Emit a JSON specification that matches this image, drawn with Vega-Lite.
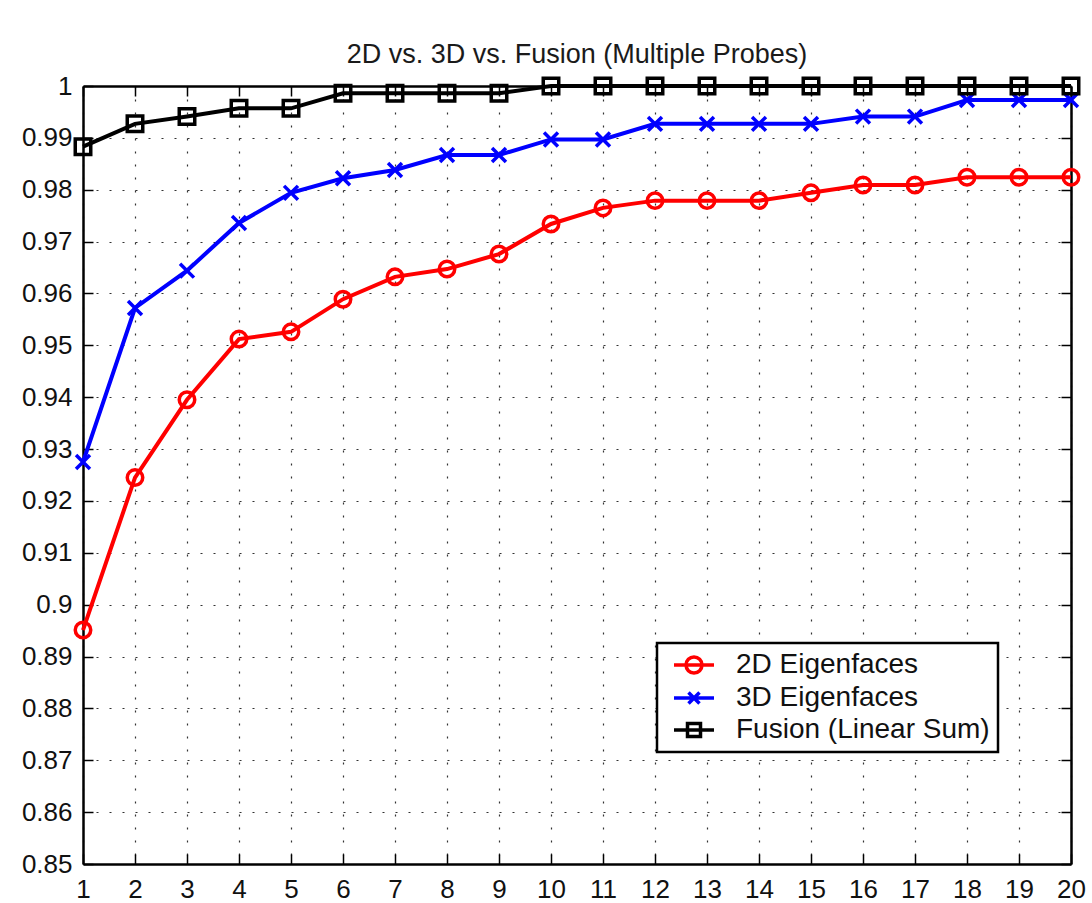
{
  "$schema": "https://vega.github.io/schema/vega-lite/v6.json",
  "width": 988,
  "height": 778,
  "autosize": {"type": "none"},
  "padding": {"left": 83, "top": 86, "right": 21, "bottom": 39},
  "background": "white",
  "title": {"text": "2D vs. 3D vs. Fusion (Multiple Probes)", "font": "Liberation Sans", "fontSize": 27, "fontWeight": "normal", "color": "#1a1a1a", "anchor": "middle", "frame": "group", "baseline": "alphabetic", "offset": -19},
  "data": {"values": [
    {"series": "2D Eigenfaces", "rank": 1, "rate": 0.8951},
    {"series": "2D Eigenfaces", "rank": 2, "rate": 0.9245},
    {"series": "2D Eigenfaces", "rank": 3, "rate": 0.9395},
    {"series": "2D Eigenfaces", "rank": 4, "rate": 0.9512},
    {"series": "2D Eigenfaces", "rank": 5, "rate": 0.9526},
    {"series": "2D Eigenfaces", "rank": 6, "rate": 0.9589},
    {"series": "2D Eigenfaces", "rank": 7, "rate": 0.9632},
    {"series": "2D Eigenfaces", "rank": 8, "rate": 0.9647},
    {"series": "2D Eigenfaces", "rank": 9, "rate": 0.9676},
    {"series": "2D Eigenfaces", "rank": 10, "rate": 0.9734},
    {"series": "2D Eigenfaces", "rank": 11, "rate": 0.9765},
    {"series": "2D Eigenfaces", "rank": 12, "rate": 0.9779},
    {"series": "2D Eigenfaces", "rank": 13, "rate": 0.9779},
    {"series": "2D Eigenfaces", "rank": 14, "rate": 0.9779},
    {"series": "2D Eigenfaces", "rank": 15, "rate": 0.9794},
    {"series": "2D Eigenfaces", "rank": 16, "rate": 0.9809},
    {"series": "2D Eigenfaces", "rank": 17, "rate": 0.9809},
    {"series": "2D Eigenfaces", "rank": 18, "rate": 0.9824},
    {"series": "2D Eigenfaces", "rank": 19, "rate": 0.9824},
    {"series": "2D Eigenfaces", "rank": 20, "rate": 0.9824},
    {"series": "3D Eigenfaces", "rank": 1, "rate": 0.9275},
    {"series": "3D Eigenfaces", "rank": 2, "rate": 0.9572},
    {"series": "3D Eigenfaces", "rank": 3, "rate": 0.9644},
    {"series": "3D Eigenfaces", "rank": 4, "rate": 0.9736},
    {"series": "3D Eigenfaces", "rank": 5, "rate": 0.9794},
    {"series": "3D Eigenfaces", "rank": 6, "rate": 0.9822},
    {"series": "3D Eigenfaces", "rank": 7, "rate": 0.9838},
    {"series": "3D Eigenfaces", "rank": 8, "rate": 0.9867},
    {"series": "3D Eigenfaces", "rank": 9, "rate": 0.9867},
    {"series": "3D Eigenfaces", "rank": 10, "rate": 0.9897},
    {"series": "3D Eigenfaces", "rank": 11, "rate": 0.9897},
    {"series": "3D Eigenfaces", "rank": 12, "rate": 0.9927},
    {"series": "3D Eigenfaces", "rank": 13, "rate": 0.9927},
    {"series": "3D Eigenfaces", "rank": 14, "rate": 0.9927},
    {"series": "3D Eigenfaces", "rank": 15, "rate": 0.9927},
    {"series": "3D Eigenfaces", "rank": 16, "rate": 0.9941},
    {"series": "3D Eigenfaces", "rank": 17, "rate": 0.9941},
    {"series": "3D Eigenfaces", "rank": 18, "rate": 0.9973},
    {"series": "3D Eigenfaces", "rank": 19, "rate": 0.9973},
    {"series": "3D Eigenfaces", "rank": 20, "rate": 0.9973},
    {"series": "Fusion (Linear Sum)", "rank": 1, "rate": 0.9883},
    {"series": "Fusion (Linear Sum)", "rank": 2, "rate": 0.9927},
    {"series": "Fusion (Linear Sum)", "rank": 3, "rate": 0.9941},
    {"series": "Fusion (Linear Sum)", "rank": 4, "rate": 0.9957},
    {"series": "Fusion (Linear Sum)", "rank": 5, "rate": 0.9957},
    {"series": "Fusion (Linear Sum)", "rank": 6, "rate": 0.9986},
    {"series": "Fusion (Linear Sum)", "rank": 7, "rate": 0.9986},
    {"series": "Fusion (Linear Sum)", "rank": 8, "rate": 0.9986},
    {"series": "Fusion (Linear Sum)", "rank": 9, "rate": 0.9986},
    {"series": "Fusion (Linear Sum)", "rank": 10, "rate": 1.0},
    {"series": "Fusion (Linear Sum)", "rank": 11, "rate": 1.0},
    {"series": "Fusion (Linear Sum)", "rank": 12, "rate": 1.0},
    {"series": "Fusion (Linear Sum)", "rank": 13, "rate": 1.0},
    {"series": "Fusion (Linear Sum)", "rank": 14, "rate": 1.0},
    {"series": "Fusion (Linear Sum)", "rank": 15, "rate": 1.0},
    {"series": "Fusion (Linear Sum)", "rank": 16, "rate": 1.0},
    {"series": "Fusion (Linear Sum)", "rank": 17, "rate": 1.0},
    {"series": "Fusion (Linear Sum)", "rank": 18, "rate": 1.0},
    {"series": "Fusion (Linear Sum)", "rank": 19, "rate": 1.0},
    {"series": "Fusion (Linear Sum)", "rank": 20, "rate": 1.0}
  ]},
  "config": {
    "view": {"stroke": null},
    "font": "Liberation Sans",
    "axis": {
      "domainColor": "black", "domainWidth": 2.5,
      "tickColor": "black", "tickWidth": 1.5, "tickSize": -10,
      "gridColor": "#333", "gridDash": [2, 11], "gridWidth": 1.2,
      "labelFont": "Liberation Sans", "labelFontSize": 26, "labelColor": "#111",
      "labelFlush": false, "labelOverlap": false, "title": null
    },
    "legend": {
      "padding": 8, "fillColor": "white", "strokeColor": "black", "strokeWidth": 2.5, "cornerRadius": 0,
      "symbolSize": 400, "symbolStrokeWidth": 3.5, "symbolOpacity": 1, "symbolOffset": 5,
      "labelOffset": 38, "labelFont": "Liberation Sans", "labelFontSize": 28, "labelColor": "#111",
      "labelLimit": 500, "rowPadding": 4
    }
  },
  "resolve": {
    "scale": {"color": "independent", "shape": "independent"},
    "axis": {"x": "independent", "y": "independent"}
  },
  "layer": [
    {
      "mark": {"type": "line", "strokeWidth": 4},
      "encoding": {
        "x": {"field": "rank", "type": "quantitative", "scale": {"domain": [1, 20], "nice": false, "zero": false},
          "axis": {"orient": "bottom", "values": [1,2,3,4,5,6,7,8,9,10,11,12,13,14,15,16,17,18,19,20], "format": "d", "grid": true, "labelPadding": 22}},
        "y": {"field": "rate", "type": "quantitative", "scale": {"domain": [0.85, 1], "nice": false, "zero": false},
          "axis": {"orient": "left", "values": [0.85,0.86,0.87,0.88,0.89,0.9,0.91,0.92,0.93,0.94,0.95,0.96,0.97,0.98,0.99,1], "format": "~g", "grid": true, "labelPadding": 21}},
        "color": {"field": "series", "type": "nominal",
          "scale": {"domain": ["2D Eigenfaces", "3D Eigenfaces", "Fusion (Linear Sum)"], "range": ["#ff0000", "#0000ff", "#000000"]},
          "legend": null}
      }
    },
    {
      "mark": {"type": "point", "filled": false, "strokeWidth": 3.5, "size": 240, "opacity": 1},
      "encoding": {
        "x": {"field": "rank", "type": "quantitative",
          "axis": {"orient": "top", "values": [1,2,3,4,5,6,7,8,9,10,11,12,13,14,15,16,17,18,19,20], "labels": false, "grid": false}},
        "y": {"field": "rate", "type": "quantitative",
          "axis": {"orient": "right", "values": [0.85,0.86,0.87,0.88,0.89,0.9,0.91,0.92,0.93,0.94,0.95,0.96,0.97,0.98,0.99,1], "labels": false, "grid": false}},
        "color": {"field": "series", "type": "nominal",
          "scale": {"domain": ["2D Eigenfaces", "3D Eigenfaces", "Fusion (Linear Sum)"], "range": ["#ff0000", "#0000ff", "#000000"]},
          "legend": null},
        "shape": {"field": "series", "type": "nominal",
          "scale": {"domain": ["2D Eigenfaces", "3D Eigenfaces", "Fusion (Linear Sum)"], "range": ["circle", "M-0.9,-0.9L0.9,0.9M-0.9,0.9L0.9,-0.9", "square"]},
          "legend": null}
      }
    },
    {
      "mark": {"type": "point", "filled": false, "strokeWidth": 3.5, "size": 10, "opacity": 0},
      "encoding": {
        "x": {"field": "rank", "type": "quantitative", "axis": null},
        "y": {"field": "rate", "type": "quantitative", "axis": null},
        "color": {"field": "series", "type": "nominal",
          "scale": {"domain": ["2D Eigenfaces", "3D Eigenfaces", "Fusion (Linear Sum)"], "range": ["#ff0000", "#0000ff", "#000000"]},
          "legend": {"title": null, "orient": "none", "legendX": 574, "legendY": 557, "direction": "vertical"}},
        "shape": {"field": "series", "type": "nominal",
          "scale": {"domain": ["2D Eigenfaces", "3D Eigenfaces", "Fusion (Linear Sum)"],
            "range": ["M-1,0L3,0M0.2,0A0.8,0.8,0,1,0,1.8,0A0.8,0.8,0,1,0,0.2,0Z", "M-1,0L3,0M0.45,-0.55L1.55,0.55M0.45,0.55L1.55,-0.55", "M-1,0L3,0M0.35,-0.65L1.65,-0.65L1.65,0.65L0.35,0.65Z"]},
          "legend": {"title": null, "orient": "none", "legendX": 574, "legendY": 557, "direction": "vertical"}}
      }
    }
  ]
}
